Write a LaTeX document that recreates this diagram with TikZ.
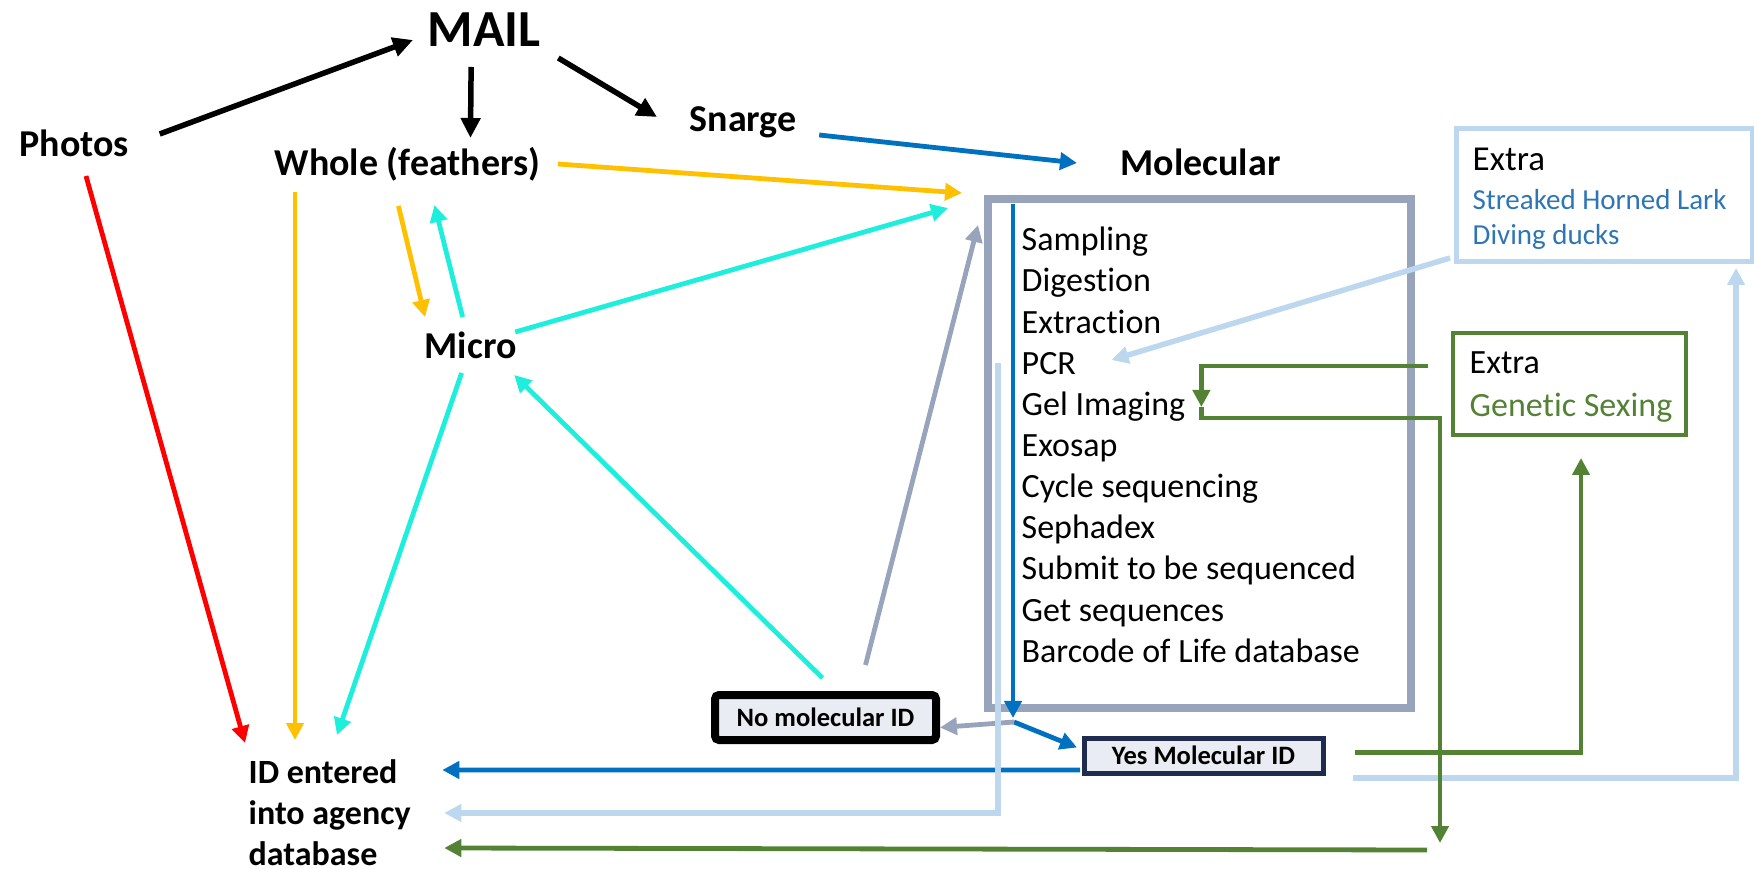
\documentclass[tikz,border=0pt]{standalone}
\usepackage{fontspec}
\setmainfont{Carlito}[Ligatures=NoCommon]
\usetikzlibrary{arrows.meta}
\definecolor{ambr}{RGB}{255,192,0}
\definecolor{turq}{RGB}{30,238,220}
\definecolor{mblue}{RGB}{0,112,192}
\definecolor{lblue}{RGB}{189,215,238}
\definecolor{sgreen}{RGB}{84,130,53}
\definecolor{molgray}{RGB}{151,164,187}
\definecolor{txtblue}{RGB}{46,117,182}
\definecolor{boxfill}{RGB}{233,236,242}
\definecolor{navy}{RGB}{31,44,78}
\tikzset{
	lbl/.style={font=\fontsize{10.8pt}{13pt}\selectfont\bfseries, inner sep=0pt, anchor=base west},
	stp/.style={font=\fontsize{9.67pt}{11.7pt}\selectfont, inner sep=0pt, anchor=base west},
	tagbox/.style={fill=boxfill, inner sep=0pt, outer sep=0pt, font=\fontsize{7.55pt}{9pt}\selectfont\bfseries},
	karr/.style={line width=0.55mm, -{Triangle[length=2mm,width=1.9mm]}},
	carr/.style={line width=0.48mm, -{Triangle[length=1.7mm,width=1.7mm]}},
}

\begin{document}
\begin{tikzpicture}[x=0.1mm, y=-0.1mm]
			%%%%% START %%%%%
			\useasboundingbox (0,0) rectangle (1754,869);
			
			\node[lbl, font=\fontsize{14.8pt}{17pt}\selectfont\bfseries] (mail) at (427,47) {MAIL};
			\node[lbl] (photos) at (19,157) {Photos};
			\node[lbl] (whole) at (274,176) {Whole (feathers)};
			\node[lbl] (snarge) at (689,132) {Snarge};
			\node[lbl] (molecular) at (1120,176) {Molecular};
			\node[lbl] (micro) at (424,359) {Micro};
			\node[lbl, font=\fontsize{9.67pt}{11.67pt}\selectfont\bfseries, align=left, anchor=north west] (iddb) at (248,759) {ID entered\\into agency\\database};
			
			\node[draw=molgray, line width=0.8mm, outer sep=0pt, minimum width=42.3mm, minimum height=50.9mm] (molbox) at (1199.5,453.5) {};
			\node[stp] (sampling) at (1021,251) {Sampling};
			\node[stp] (digestion) at (1021,292) {Digestion};
			\node[stp] (extraction) at (1021,334) {Extraction};
			\node[stp] (pcr) at (1021,375) {PCR};
			\node[stp] (gel) at (1021,416) {Gel Imaging};
			\node[stp] (exosap) at (1021,457) {Exosap};
			\node[stp] (cycle) at (1021,498) {Cycle sequencing};
			\node[stp] (sephadex) at (1021,539) {Sephadex};
			\node[stp] (submit) at (1021,580) {Submit to be sequenced};
			\node[stp] (getseq) at (1021,622) {Get sequences};
			\node[stp] (barcode) at (1021,663) {Barcode of Life database};
			
			\node[tagbox, draw=black, line width=0.8mm, rounded corners=0.4mm, minimum width=22.1mm, minimum height=4.5mm] (nomol) at (825.5,717.5) {No molecular ID\hspace{1.8mm}};
			\node[tagbox, draw=navy, line width=0.5mm, minimum width=23.9mm, minimum height=3.5mm] (yesmol) at (1203.5,755.5) {Yes Molecular ID};
			
			\node[draw=lblue, line width=0.5mm, outer sep=0pt, minimum width=29.6mm, minimum height=13.3mm] (xtrab) at (1604,195.5) {};
			\node[stp, font=\fontsize{9.96pt}{12pt}\selectfont] (xtrabhead) at (1472,171) {Extra};
			\node[stp, font=\fontsize{8.25pt}{10pt}\selectfont, text=txtblue] (lark) at (1472,210) {Streaked Horned Lark};
			\node[stp, font=\fontsize{8.25pt}{10pt}\selectfont, text=txtblue] (ducks) at (1472,245) {Diving ducks};
			
			\node[draw=sgreen, line width=0.45mm, outer sep=0pt, minimum width=23.3mm, minimum height=10.2mm] (xtrag) at (1569.5,384) {};
			\node[stp] (xtraghead) at (1469,374) {Extra};
			\node[stp, text=sgreen] (sexing) at (1469,417) {Genetic Sexing};
			
			% mail in
			\draw[karr] ([shift={(30,-23)}]photos.base east) -- ([shift={(-14,-7)}]mail.base west);
			\draw[karr] ([shift={(-13,20)}]mail.base) -- ([shift={(63,-38)}]whole.base);
			\draw[karr] ([shift={(17,11)}]mail.base east) -- ([shift={(-32,-15)}]snarge.base west);
			
			\draw[carr, color=mblue] ([shift={(22,3)}]snarge.base east) -- ([shift={(-43,-13)}]molecular.base west);
			\draw[carr, color=red] ([shift={(67,19)}]photos.base west) -- ([shift={(-3,-16)}]iddb.north west);
			
			\draw[carr, color=ambr] ([shift={(17,-12)}]whole.base east) -- ([shift={(-26,-6)}]molbox.north west);
			\draw[carr, color=ambr] ([shift={(21,16)}]whole.base west) -- ([shift={(47,-19)}]iddb.north west);
			\draw[carr, color=ambr] ([shift={(-9,30)}]whole.base) -- ([shift={(1,-42)}]micro.base west);
			
			\draw[carr, color=turq] ([shift={(-8,-42)}]micro.base) -- ([shift={(27,29)}]whole.base);
			\draw[carr, color=turq] ([shift={(-2,-27)}]micro.base east) -- ([shift={(-40,9)}]molbox.north west);
			\draw[carr, color=turq] ([shift={(-9,14)}]micro.base) -- ([shift={(89,-24)}]iddb.north west);
			\draw[carr, color=turq] ([shift={(-3,-17)}]nomol.north) -- ([shift={(-3,16)}]micro.base east);
			\draw[carr, color=molgray] ([shift={(40,-30)}]nomol.north) -- ([shift={(-10,26)}]molbox.north west);
			
			% molecular route
			\draw[carr, color=mblue] ([shift={(25,5)}]molbox.north west) -- ([shift={(25,10)}]molbox.south west);
			\coordinate (split) at ([shift={(26,14)}]molbox.south west);
			\draw[carr, color=mblue] (split) -- ([shift={(-7,-8)}]yesmol.west);
			\draw[carr, color=molgray] (split) -- ([shift={(4,10)}]nomol.east);
			\draw[carr, color=mblue] ([shift={(-4,-3)}]yesmol.south west) -- ([shift={(31,11)}]iddb.north east);
			
			\draw[carr, line width=0.55mm, color=lblue] ([shift={(-23,-12)}]pcr.base west) |- ([shift={(33,54)}]iddb.north east);
			\draw[carr, line width=0.55mm, color=lblue] ([shift={(-6,-4)}]xtrab.south west) -- ([shift={(35,-15)}]pcr.base east);
			\draw[carr, line width=0.55mm, color=lblue] ([shift={(30,5)}]yesmol.south east) -| ([shift={(-16,6)}]xtrab.south east);
			
			\draw[carr, color=sgreen] ([shift={(32,-3)}]yesmol.east) -| ([shift={(11.5,23)}]xtrag.south);
			\coordinate (gelout) at ([shift={(15.5,-9)}]gel.base east);
			\coordinate (sexdrop) at (1440,843);
			\draw[carr, color=sgreen] ([shift={(-25,-18)}]xtrag.west) -| (gelout);
			\draw[carr, color=sgreen] (gelout) -- ++(0,11) -| (sexdrop);
			\draw[carr, color=sgreen] ([shift={(-13,7)}]sexdrop) -- ([shift={(33,89)}]iddb.north east);
			
			%%%%% END %%%%%
\end{tikzpicture}
\end{document}
